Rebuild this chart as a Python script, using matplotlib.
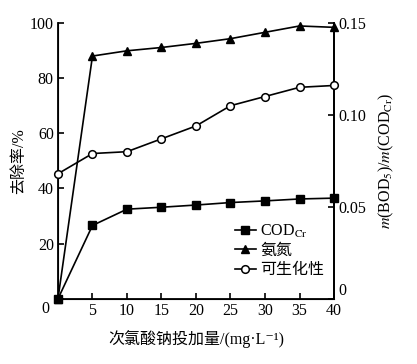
import matplotlib
matplotlib.use('Agg')
import matplotlib.pyplot as plt

plt.rcParams['font.family'] = ['Liberation Serif', 'Noto Sans CJK SC', 'DejaVu Serif']
plt.rcParams['mathtext.fontset'] = 'stix'

# data
dose = [0, 5, 10, 15, 20, 25, 30, 35, 40]
cod_removal = [0, 26.6, 32.5, 33.2, 34.0, 34.9, 35.5, 36.2, 36.5]
nh3_removal = [0, 88.0, 89.9, 91.1, 92.6, 94.3, 96.6, 98.9, 98.4]
biodeg = [0.068, 0.079, 0.080, 0.087, 0.094, 0.105, 0.110, 0.115, 0.116]

x_ticks = [5, 10, 15, 20, 25, 30, 35, 40]
y_ticks = [0, 20, 40, 60, 80, 100]
y2_ticks = [0, 0.05, 0.10, 0.15]

fig = plt.figure(figsize=(4.17, 3.64), dpi=100)
ax = fig.add_axes([0.139, 0.179, 0.662, 0.758])

l2, = ax.plot(dose, nh3_removal, color='black', lw=1.2, marker='^', ms=6,
              clip_on=False, zorder=3)
l1, = ax.plot(dose, cod_removal, color='black', lw=1.2, marker='s', ms=5.5,
              clip_on=False, zorder=4)

ax.set_xlim(0, 40)
ax.set_ylim(0, 100)
ax.set_xticks(x_ticks)
ax.set_yticks(y_ticks)
ax.set_yticklabels([''] + [str(v) for v in y_ticks[1:]])
ax.tick_params(direction='in', length=4, width=1.2, labelsize=11.5, pad=3)
ax.spines['top'].set_visible(False)
for s in ['left', 'bottom', 'right']:
    ax.spines[s].set_linewidth(1.3)
ax.text(-0.03, -0.035, '0', transform=ax.transAxes, ha='right', va='center',
        fontsize=11.5)

ax2 = ax.twinx()
l3, = ax2.plot(dose, biodeg, color='black', lw=1.2, marker='o', ms=5.5,
               mfc='white', mew=1.1, clip_on=False, zorder=3)
ax2.set_ylim(0, 0.15)
ax2.set_yticks(y2_ticks)
ax2.set_yticklabels(['0', '0.05', '0.10', '0.15'])
ax2.tick_params(direction='in', length=4, width=1.2, labelsize=11.5, pad=3)
ax2.get_yticklabels()[0].set_va('bottom')
ax2.spines['top'].set_visible(False)
ax2.spines['right'].set_linewidth(1.3)

ax.set_xlabel('次氯酸钠投加量/(mg·L⁻¹)', fontsize=11.5, labelpad=8)
ax.set_ylabel('去除率/%', fontsize=11.5, labelpad=2)
ax2.set_ylabel(r'$m$(BOD$_5$)/$m$(COD$_{\rm Cr}$)', fontsize=11.5, labelpad=8)

ax.legend([l1, l2, l3], ['COD$_{\\rm Cr}$', '氨氮', '可生化性'],
          loc='lower right', bbox_to_anchor=(1.0, 0.04), frameon=False,
          fontsize=11.5, handlelength=1.3, handletextpad=0.3, labelspacing=0.2,
          borderaxespad=0.2)

fig.savefig('out.png', dpi=100)
